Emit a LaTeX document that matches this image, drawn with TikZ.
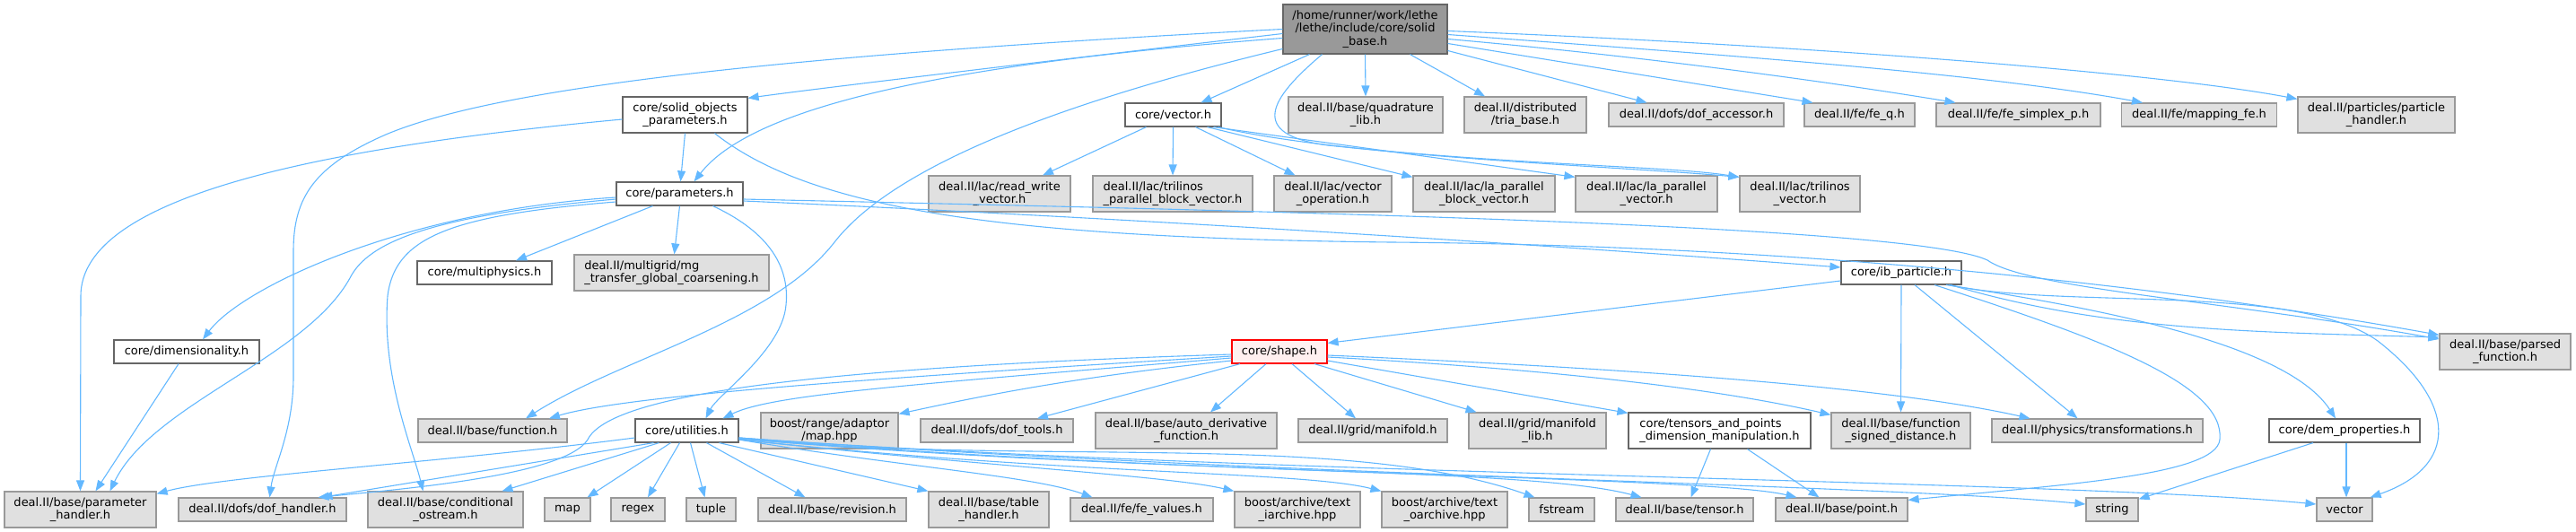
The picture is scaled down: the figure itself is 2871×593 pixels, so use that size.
\documentclass[tikz,border=0pt]{standalone}
\usepackage{fontspec}
\setmainfont{DejaVu Sans}
\usepackage{xcolor}
\usetikzlibrary{arrows.meta}
\definecolor{dxEdge}{HTML}{63B8FF}
\definecolor{dxExtFill}{HTML}{E0E0E0}
\definecolor{dxExtLine}{HTML}{999999}
\definecolor{dxLine}{HTML}{666666}
\definecolor{dxMainFill}{HTML}{999999}
\definecolor{dxFocusFill}{HTML}{FFF0F0}
\definecolor{dxFocusLine}{HTML}{FF0000}
\tikzset{
  dx graph/.style={font=\fontsize{13pt}{14.5pt}\selectfont, x=1pt, y=-1pt},
  dx box/.style={draw=dxLine, fill=white, line width=1.2pt, inner sep=0pt,
    align=center, minimum height=26pt},
  dx ext/.style={dx box, draw=dxExtLine, fill=dxExtFill},
  dx main/.style={dx box, fill=dxMainFill},
  dx focus/.style={dx box, draw=dxFocusLine, fill=dxFocusFill},
  two lines/.style={minimum height=40pt},
  box w/.style={minimum width=#1pt},
  dx edge/.style={-{Triangle[length=12pt,width=9pt]}, draw=dxEdge, line width=1.1pt}
}
\begin{document}
\begin{tikzpicture}[dx graph]
\useasboundingbox (0,0) rectangle (2871,593);
% rank 0
\node[dx main, box w=183, minimum height=55pt] (main) at (1521.5,32.5)
  {/home/runner/work/lethe\\/lethe/include/core/solid\\\_base.h};
% rank 1
\node[dx box, box w=139, two lines] (solidobj) at (763.5,128) {core/solid\_objects\\\_parameters.h};
\node[dx box, box w=107] (vectorh) at (1307.5,128) {core/vector.h};
\node[dx ext, box w=172, two lines] (quadrature) at (1522,128) {deal.II/base/quadrature\\\_lib.h};
\node[dx ext, box w=136, two lines] (triabase) at (1700,128) {deal.II/distributed\\/tria\_base.h};
\node[dx ext, box w=195] (dofacc) at (1890.5,128) {deal.II/dofs/dof\_accessor.h};
\node[dx ext, box w=123] (feq) at (2072.5,128) {deal.II/fe/fe\_q.h};
\node[dx ext, box w=183] (fesimplex) at (2249.5,128) {deal.II/fe/fe\_simplex\_p.h};
\node[dx ext, box w=173] (mappingfe) at (2451,128) {deal.II/fe/mapping\_fe.h};
\node[dx ext, box w=175, two lines] (particlehandler) at (2648.5,128) {deal.II/particles/particle\\\_handler.h};
% rank 2
\node[dx box, box w=141] (parameters) at (757.5,216) {core/parameters.h};
\node[dx ext, box w=158, two lines] (readwrite) at (1114,216) {deal.II/lac/read\_write\\\_vector.h};
\node[dx ext, box w=178, two lines, align=left] (triparblock) at (1307,216) {deal.II/lac/trilinos\\\_parallel\_block\_vector.h};
\node[dx ext, box w=131, two lines] (vecop) at (1485.5,216) {deal.II/lac/vector\\\_operation.h};
\node[dx ext, box w=158, two lines] (laparblock) at (1654,216) {deal.II/lac/la\_parallel\\\_block\_vector.h};
\node[dx ext, box w=158, two lines] (laparvec) at (1835,216) {deal.II/lac/la\_parallel\\\_vector.h};
\node[dx ext, box w=134, two lines] (trivec) at (2006,216) {deal.II/lac/trilinos\\\_vector.h};
% rank 3
\node[dx box, box w=150] (multiphysics) at (540,304) {core/multiphysics.h};
\node[dx ext, box w=217, two lines, align=left] (mgtransfer) at (748.5,304) {deal.II/multigrid/mg\\\_transfer\_global\_coarsening.h};
\node[dx box, box w=134] (ibparticle) at (2119,304) {core/ib\_particle.h};
% rank 4
\node[dx box, box w=162] (dimensionality) at (208,392) {core/dimensionality.h};
\node[dx focus, box w=106] (shape) at (1426,392) {core/shape.h};
\node[dx ext, box w=146, two lines] (parsedfunc) at (2792,392) {deal.II/base/parsed\\\_function.h};
% rank 5
\node[dx ext, box w=166] (functionh) at (549,480) {deal.II/base/function.h};
\node[dx box, box w=115] (utilities) at (765.5,480) {core/utilities.h};
\node[dx ext, box w=153, two lines] (rangemap) at (924.5,480) {boost/range/adaptor\\/map.hpp};
\node[dx ext, box w=170] (doftools) at (1111,480) {deal.II/dofs/dof\_tools.h};
\node[dx ext, box w=202, two lines] (autoderiv) at (1322,480) {deal.II/base/auto\_derivative\\\_function.h};
\node[dx ext, box w=166] (manifold) at (1530,480) {deal.II/grid/manifold.h};
\node[dx ext, box w=153, two lines] (manifoldlib) at (1713.5,480) {deal.II/grid/manifold\\\_lib.h};
\node[dx box, box w=203, two lines, align=left] (tensors) at (1916.5,480) {core/tensors\_and\_points\\\_dimension\_manipulation.h};
\node[dx ext, box w=155, two lines] (signeddist) at (2118.5,480) {deal.II/base/function\\\_signed\_distance.h};
\node[dx ext, box w=235] (transformations) at (2337.5,480) {deal.II/physics/transformations.h};
\node[dx box, box w=168] (demprop) at (2613,480) {core/dem\_properties.h};
% rank 6
\node[dx ext, box w=169, two lines] (paramhandler) at (89.5,568) {deal.II/base/parameter\\\_handler.h};
\node[dx ext, box w=187] (dofhandler) at (292.5,568) {deal.II/dofs/dof\_handler.h};
\node[dx ext, box w=173, two lines] (condostream) at (496.5,568) {deal.II/base/conditional\\\_ostream.h};
\node[dx ext, box w=51] (map) at (632.5,568) {map};
\node[dx ext, box w=60] (regex) at (711,568) {regex};
\node[dx ext, box w=55] (tuple) at (792.5,568) {tuple};
\node[dx ext, box w=165] (revision) at (927.5,568) {deal.II/base/revision.h};
\node[dx ext, box w=134, two lines] (tablehandler) at (1102,568) {deal.II/base/table\\\_handler.h};
\node[dx ext, box w=159] (fevalues) at (1272.5,568) {deal.II/fe/fe\_values.h};
\node[dx ext, box w=140, two lines] (iarchive) at (1446,568) {boost/archive/text\\\_iarchive.hpp};
\node[dx ext, box w=140, two lines] (oarchive) at (1610,568) {boost/archive/text\\\_oarchive.hpp};
\node[dx ext, box w=73] (fstream) at (1740.5,568) {fstream};
\node[dx ext, box w=153] (tensorh) at (1877.5,568) {deal.II/base/tensor.h};
\node[dx ext, box w=147] (pointh) at (2052.5,568) {deal.II/base/point.h};
\node[dx ext, box w=58] (string) at (2354,568) {string};
\node[dx ext, box w=62] (vector) at (2613,568) {vector};

% solid_base.h
\draw[dx edge] ([yshift=-5pt]main.west) .. controls (1150,70) and (900,100) .. ([yshift=-2pt]solidobj.north east);
\draw[dx edge] ([yshift=-10pt]main.west) .. controls (1000,75) and (830,130) .. ([xshift=16pt]parameters.north);
\draw[dx edge] (main.west) .. controls (900,60) and (560,95) .. (430,150) .. controls (350,185) and (327,220) .. (327,280) -- (327,420) .. controls (327,480) and (305,520) .. ([xshift=8pt]dofhandler.north);
\draw[dx edge] ([yshift=-22pt]main.west) .. controls (1200,110) and (1000,180) .. (930,270) .. controls (860,360) and (690,400) .. ([xshift=37pt]functionh.north);
\draw[dx edge] ([xshift=-62pt]main.south) -- ([xshift=31pt]vectorh.north);
\draw[dx edge] ([xshift=-48pt]main.south) .. controls (1415,110) and (1390,150) .. (1480,162) .. controls (1700,185) and (1860,185) .. ([yshift=-2pt]trivec.north west);
\draw[dx edge] (main.south) -- (quadrature.north);
\draw[dx edge] ([xshift=50pt]main.south) -- ([xshift=-45pt]triabase.north);
\draw[dx edge] ([yshift=-24pt]main.east) -- ([xshift=-55pt]dofacc.north);
\draw[dx edge] ([yshift=-16pt]main.east) -- ([xshift=-52pt]feq.north);
\draw[dx edge] ([yshift=-11pt]main.east) .. controls (1800,60) and (2000,85) .. ([xshift=-70pt]fesimplex.north);
\draw[dx edge] ([yshift=-6pt]main.east) .. controls (1900,60) and (2200,80) .. ([xshift=-63pt]mappingfe.north);
\draw[dx edge] ([yshift=-2pt]main.east) .. controls (2000,50) and (2400,80) .. ([yshift=-3pt]particlehandler.north west);
% solid_objects_parameters.h
\draw[dx edge] (solidobj.south) -- ([xshift=1pt]parameters.north);
\draw[dx edge] ([yshift=-5pt]solidobj.west) .. controls (350,165) and (90,220) .. (90,330) -- (paramhandler.north);
\draw[dx edge] ([xshift=33pt]solidobj.south) .. controls (900,230) and (1100,265) .. (1550,270) .. controls (2050,274) and (2450,325) .. ([yshift=-2pt]parsedfunc.north west);
% parameters.h
\draw[dx edge] ([yshift=-4pt]parameters.west) .. controls (450,235) and (270,320) .. ([xshift=18pt]dimensionality.north);
\draw[dx edge] ([yshift=-6pt]parameters.west) .. controls (480,240) and (410,270) .. (390,310) .. controls (340,400) and (170,450) .. ([xshift=33pt]paramhandler.north);
\draw[dx edge] ([yshift=-9pt]parameters.west) .. controls (500,240) and (440,265) .. (432,330) .. controls (425,420) and (460,500) .. ([xshift=-25pt]condostream.north);
\draw[dx edge] ([xshift=-30pt]parameters.south) -- ([xshift=35pt]multiphysics.north);
\draw[dx edge] (parameters.south) -- ([xshift=3pt]mgtransfer.north);
\draw[dx edge] ([xshift=37pt]parameters.south) .. controls (860,260) and (880,300) .. (876,340) .. controls (872,390) and (800,440) .. ([xshift=21pt]utilities.north);
\draw[dx edge] ([yshift=-8pt]parameters.east) .. controls (1300,245) and (1750,275) .. ([yshift=6pt]ibparticle.west);
\draw[dx edge] ([yshift=-6pt]parameters.east) .. controls (1400,235) and (2130,250) .. (2215,290) .. controls (2260,322) and (2480,335) .. ([yshift=14pt]parsedfunc.west);
% core/vector.h
\draw[dx edge] ([xshift=-30pt]vectorh.south) -- ([xshift=48pt]readwrite.north);
\draw[dx edge] (vectorh.south) -- (triparblock.north);
\draw[dx edge] ([xshift=25pt]vectorh.south) -- ([xshift=-42pt]vecop.north);
\draw[dx edge] ([xshift=38pt]vectorh.south) -- ([yshift=-2pt]laparblock.north west);
\draw[dx edge] ([xshift=45pt]vectorh.south) -- ([yshift=-2pt]laparvec.north west);
\draw[dx edge] ([xshift=50pt]vectorh.south) .. controls (1500,175) and (1800,185) .. ([yshift=-2pt]trivec.north west);
% core/shape.h
\draw[dx edge] ([yshift=-3pt]shape.west) .. controls (900,410) and (680,440) .. (655,490) .. controls (630,530) and (450,545) .. ([xshift=62pt]dofhandler.north);
\draw[dx edge] ([yshift=-5pt]shape.west) .. controls (1000,420) and (700,440) .. ([xshift=63pt]functionh.north);
\draw[dx edge] ([yshift=-7pt]shape.west) .. controls (1000,430) and (860,440) .. ([xshift=40pt]utilities.north);
\draw[dx edge] ([yshift=-10pt]shape.west) .. controls (1200,420) and (1100,440) .. ([yshift=-2pt]rangemap.north east);
\draw[dx edge] ([xshift=-44pt]shape.south) -- ([xshift=45pt]doftools.north);
\draw[dx edge] ([xshift=-15pt]shape.south) -- ([xshift=27pt]autoderiv.north);
\draw[dx edge] ([xshift=14pt]shape.south) -- ([xshift=-19pt]manifold.north);
\draw[dx edge] ([xshift=39pt]shape.south) -- ([xshift=-68pt]manifoldlib.north);
\draw[dx edge] ([yshift=-10pt]shape.east) -- ([yshift=-1pt]tensors.north west);
\draw[dx edge] ([yshift=-6pt]shape.east) .. controls (1700,410) and (1900,430) .. ([yshift=-3pt]signeddist.north west);
\draw[dx edge] ([yshift=-4pt]shape.east) .. controls (1800,410) and (2100,430) .. ([xshift=-75pt]transformations.north);
% core/ib_particle.h
\draw[dx edge] ([yshift=-9pt]ibparticle.west) -- ([yshift=-4pt]shape.north east);
\draw[dx edge] (ibparticle.south) -- (signeddist.north);
\draw[dx edge] ([xshift=15pt]ibparticle.south) -- ([xshift=-22pt]transformations.north);
\draw[dx edge] ([xshift=37pt]ibparticle.south) .. controls (2350,380) and (2480,430) .. (2474,490) .. controls (2470,530) and (2300,540) .. ([yshift=-3pt]pointh.north east);
\draw[dx edge] ([xshift=50pt]ibparticle.south) .. controls (2350,345) and (2550,385) .. ([xshift=-10pt]demprop.north);
\draw[dx edge] ([xshift=53pt]ibparticle.south) .. controls (2300,345) and (2560,315) .. (2650,380) .. controls (2740,450) and (2740,520) .. ([xshift=-3pt]vector.north east);
\draw[dx edge] ([xshift=55pt]ibparticle.south) .. controls (2350,370) and (2520,370) .. ([yshift=16pt]parsedfunc.west);
% core/tensors_and_points_dimension_manipulation.h
\draw[dx edge] ([xshift=-10pt]tensors.south) -- ([xshift=7pt]tensorh.north);
\draw[dx edge] ([xshift=31pt]tensors.south) -- ([xshift=-25pt]pointh.north);
% core/dem_properties.h
\draw[dx edge] ([xshift=-35pt]demprop.south) -- ([yshift=-2pt]string.north east);
\draw[dx edge] ([xshift=2pt]demprop.south) -- ([xshift=2pt]vector.north);
% core/dimensionality.h
\draw[dx edge] ([xshift=-9pt]dimensionality.south) -- ([xshift=17pt]paramhandler.north);
% core/utilities.h
\draw[dx edge] ([yshift=-8pt]utilities.west) .. controls (500,515) and (250,530) .. ([yshift=-3pt]paramhandler.north east);
\draw[dx edge] ([xshift=-37pt]utilities.south) -- ([xshift=66pt]dofhandler.north);
\draw[dx edge] ([xshift=-31pt]utilities.south) -- ([xshift=63pt]condostream.north);
\draw[dx edge] ([xshift=-18pt]utilities.south) -- ([xshift=22pt]map.north);
\draw[dx edge] ([xshift=-8pt]utilities.south) -- ([xshift=11pt]regex.north);
\draw[dx edge] ([xshift=4pt]utilities.south) -- ([xshift=-7pt]tuple.north);
\draw[dx edge] ([xshift=22pt]utilities.south) -- ([xshift=-30pt]revision.north);
\draw[dx edge] ([xshift=36pt]utilities.south) -- (tablehandler.north west);
\draw[dx edge] ([yshift=-10pt]utilities.east) .. controls (1000,520) and (1150,530) .. ([xshift=-55pt]fevalues.north);
\draw[dx edge] ([yshift=-10pt]utilities.east) .. controls (1100,520) and (1300,530) .. (iarchive.north west);
\draw[dx edge] ([yshift=-10pt]utilities.east) .. controls (1200,530) and (1450,525) .. (oarchive.north west);
\draw[dx edge] ([yshift=-9pt]utilities.east) .. controls (1150,520) and (1500,480) .. ([xshift=-30pt]fstream.north);
\draw[dx edge] ([yshift=-9pt]utilities.east) .. controls (1300,530) and (1700,520) .. ([xshift=-48pt]tensorh.north);
\draw[dx edge] ([yshift=-8pt]utilities.east) .. controls (1300,530) and (1900,530) .. ([xshift=-50pt]pointh.north);
\draw[dx edge] ([yshift=-8pt]utilities.east) .. controls (1400,530) and (2100,540) .. ([yshift=6pt]string.west);
\draw[dx edge] ([yshift=-8pt]utilities.east) .. controls (1400,530) and (2300,535) .. ([yshift=6pt]vector.west);
\end{tikzpicture}
\end{document}
